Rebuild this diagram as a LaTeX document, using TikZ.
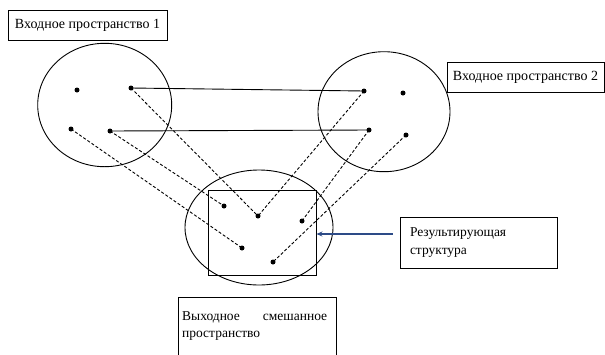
\documentclass[tikz,border=0pt]{standalone}
\usepackage{fontspec}
\setmainfont{Liberation Serif}
\usetikzlibrary{shapes.geometric,arrows.meta}
\definecolor{arrowblue}{RGB}{45,75,135}
\begin{document}
\begin{tikzpicture}[x=1pt,y=-1pt,
  lbl/.style={draw, line width=0.8pt, font=\fontsize{14}{18}\selectfont, inner sep=0pt},
  space/.style={draw, ellipse, line width=0.9pt, inner sep=0pt},
  dotpt/.style={circle, fill, inner sep=0pt, minimum size=5pt},
  link/.style={line width=0.9pt},
  mapline/.style={line width=0.9pt, dash pattern=on 3pt off 2pt},
]
\useasboundingbox (0,0) rectangle (605,354);
\clip (0,0) rectangle (605,354);
% labels
\node[lbl, minimum width=159pt, minimum height=30pt] (in1) at (87.5,25) {Входное пространство 1};
\node[lbl, minimum width=157pt, minimum height=30pt] (in2) at (525.5,77) {Входное пространство 2};
\node[lbl, font=\fontsize{13.5}{18}\selectfont, text width=137pt, inner xsep=10pt, align=left, minimum height=51pt] (rbox) at (478.5,242.5) {Результирующая\\структура};
\node[lbl, anchor=north west, minimum width=158pt, minimum height=80pt] (outbox) at (178,297) {};
\node[font=\fontsize{13.5}{17}\selectfont, text width=145pt, align=justify, anchor=north west, inner sep=0pt] (outtext) at (182,311) {Выходное смешанное пространство};
% spaces
\node[space, minimum width=134pt, minimum height=123.4pt] (e1) at (104.7,105) {};
\node[space, minimum width=132pt, minimum height=120pt] (e2) at (384,111.7) {};
\node[space, minimum width=148pt, minimum height=115pt] (e3) at (259,227.5) {};
\node[draw, line width=0.9pt, minimum width=108pt, minimum height=85pt, inner sep=0pt] (res) at (262,232.5) {};
% dots
\node[dotpt] (a1) at (77,90) {};
\node[dotpt] (a2) at (131,88) {};
\node[dotpt] (a3) at (71,129) {};
\node[dotpt] (a4) at (110,131) {};
\node[dotpt] (b1) at (364,91) {};
\node[dotpt] (b2) at (403,93) {};
\node[dotpt] (b3) at (369,130) {};
\node[dotpt] (b4) at (406,135) {};
\node[dotpt] (c1) at (224,206) {};
\node[dotpt] (c2) at (258,216) {};
\node[dotpt] (c3) at (302,221) {};
\node[dotpt] (c4) at (242,248) {};
\node[dotpt] (c5) at (273,262) {};
% connectors
\draw[link] (a2.center) -- (b1.center);
\draw[link] (a4.center) -- (b3.center);
\draw[mapline] (a2.center) -- (c2.center);
\draw[mapline] (a4.center) -- (c1.center);
\draw[mapline] (a3.center) -- (c4.center);
\draw[mapline] (b1.center) -- (c2.center);
\draw[mapline] (b3.center) -- (c3.center);
\draw[mapline] (b4.center) -- (c5.center);
% arrow
\coordinate (tail) at ([yshift=8.5pt]rbox.west);
\draw[arrowblue, line width=2pt, shorten <=7pt, -{Stealth[length=6pt,width=5pt]}] (tail) -- (tail -| res.east);
\end{tikzpicture}
\end{document}
